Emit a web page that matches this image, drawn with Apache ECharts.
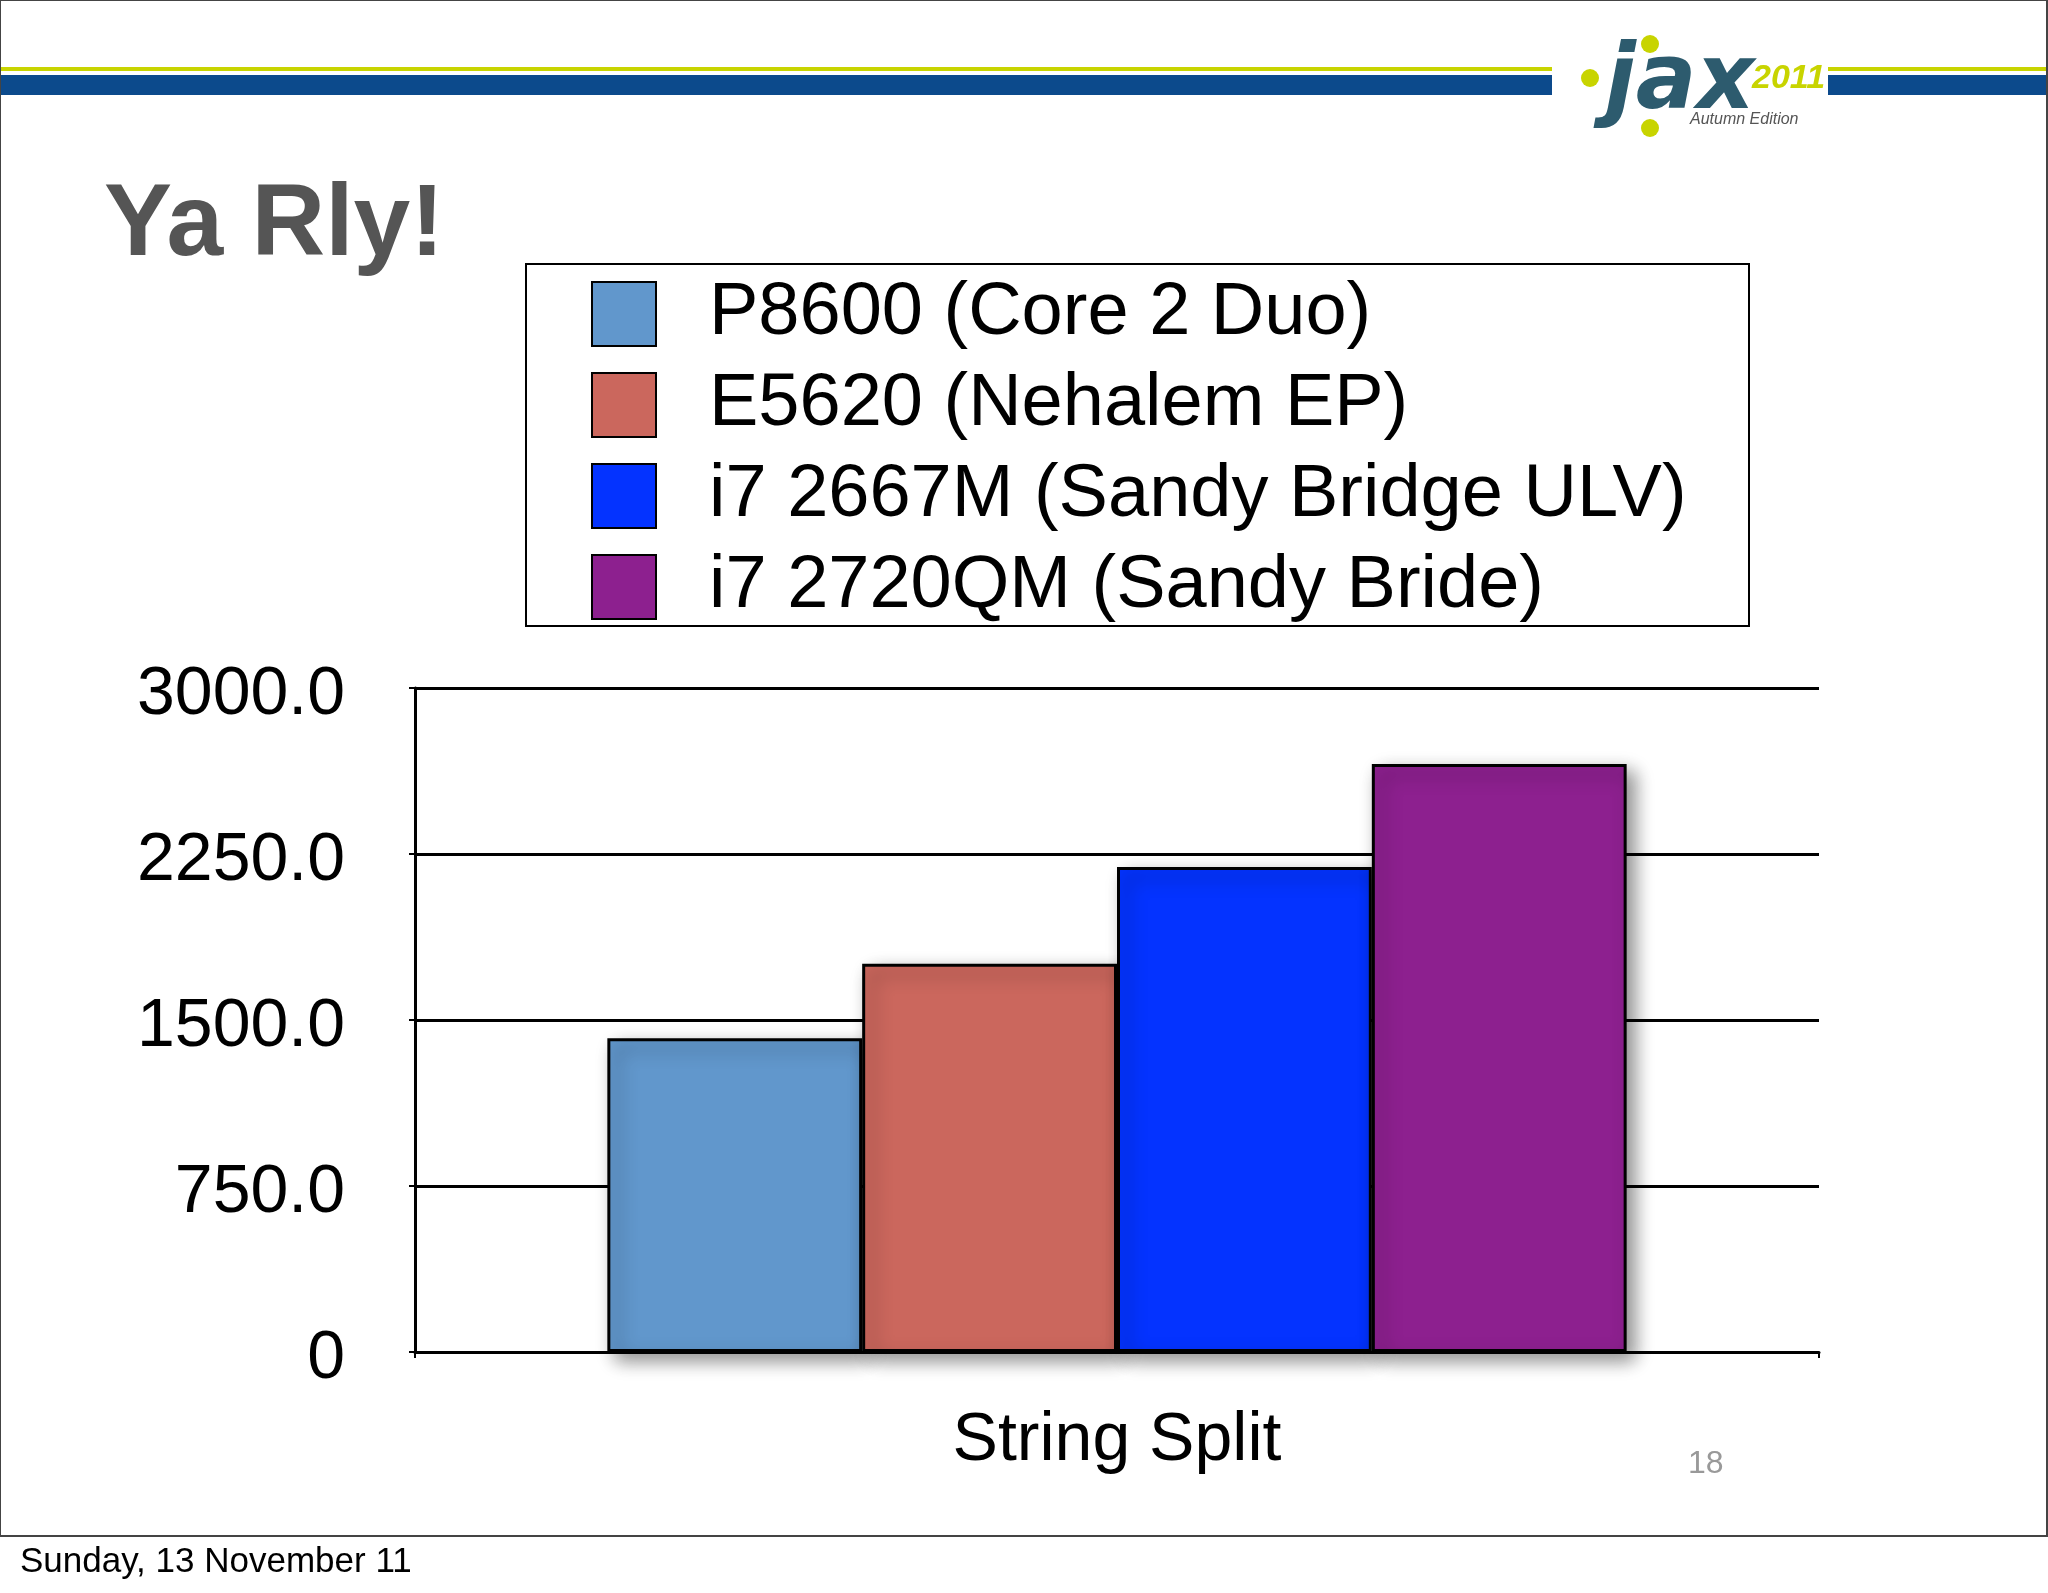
<!DOCTYPE html>
<html>
<head>
<meta charset="utf-8">
<script src="https://cdn.jsdelivr.net/npm/echarts@6/dist/echarts.min.js"></script>
<style>html,body{margin:0;padding:0;background:#fff}#c{width:2048px;height:1593px}</style>
</head>
<body>
<div id="c"></div>
<script>
var categories = ['String Split'];
var seriesNames = ['P8600 (Core 2 Duo)', 'E5620 (Nehalem EP)', 'i7 2667M (Sandy Bridge ULV)', 'i7 2720QM (Sandy Bride)'];
var seriesValues = [[1417], [1754], [2191], [2657]];
var seriesColors = ['#6197cc', '#cb675d', '#0433ff', '#8d208f'];
var yTicks = [0, 750, 1500, 2250, 3000];

function getSeries() {
	var arr = [];
	for (var i = 0; i < seriesNames.length; i++) {
		arr.push({
			name: seriesNames[i],
			type: 'bar',
			data: seriesValues[i],
			barGap: '0%',
			barCategoryGap: '27.4%',
			itemStyle: {
				color: seriesColors[i], borderColor: '#000', borderWidth: 3,
				shadowColor: 'rgba(0,0,0,0.45)', shadowBlur: 18, shadowOffsetX: 8, shadowOffsetY: 8
			}
		});
	}
	return arr;
}

var myChart = echarts.init(document.getElementById('c'));
myChart.setOption({
	animation: false,
	textStyle: { fontFamily: 'Liberation Sans, Arial, sans-serif' },
	grid: { left: 415, right: 229, top: 688, bottom: 241 },
	legend: {
		orient: 'vertical', left: 586, top: 272,
		itemWidth: 64, itemHeight: 64, itemGap: 17,
		icon: 'rect',
		itemStyle: { borderColor: '#000', borderWidth: 2 },
		textStyle: { fontSize: 74, color: '#000', padding: [0, 0, 0, 48] },
		data: seriesNames
	},
	xAxis: {
		type: 'category', data: categories,
		axisLine: { lineStyle: { color: '#000', width: 3 } },
		axisTick: { show: true, alignWithLabel: false, length: 6, lineStyle: { color: '#000', width: 2 } },
		axisLabel: { fontSize: 68, color: '#000', margin: 55 }
	},
	yAxis: {
		type: 'value', min: 0, max: 3000, interval: 750,
		axisLine: { show: true, lineStyle: { color: '#000', width: 3 } },
		axisTick: { show: true, length: 6, lineStyle: { color: '#000', width: 2 } },
		splitLine: { lineStyle: { color: '#000', width: 3 } },
		axisLabel: {
			fontSize: 68, color: '#000', margin: 70, lineHeight: 90, verticalAlign: 'top', padding: [-38, 0, 0, 0],
			formatter: function (v) { return v === 0 ? '0' : v.toFixed(1); }
		}
	},
	graphic: [
		{ type: 'rect', shape: { x: 0, y: 67, width: 1552, height: 4 }, style: { fill: '#c8d400' } },
		{ type: 'rect', shape: { x: 0, y: 75, width: 1552, height: 20 }, style: { fill: '#0c4a8c' } },
		{ type: 'rect', shape: { x: 1828, y: 67, width: 220, height: 4 }, style: { fill: '#c8d400' } },
		{ type: 'rect', shape: { x: 1828, y: 75, width: 220, height: 20 }, style: { fill: '#0c4a8c' } },
		{ type: 'text', left: 1605, top: 40, style: { text: 'jax', font: 'bold italic 90px DejaVu Sans', fill: '#2d5b6e' } },
		{ type: 'text', left: 1752, top: 62, style: { text: '2011', font: 'bold italic 34px Liberation Sans', fill: '#c8d400' } },
		{ type: 'text', left: 1690, top: 112, style: { text: 'Autumn Edition', font: 'italic 16px Liberation Sans', fill: '#555' } },
		{ type: 'circle', shape: { cx: 1650, cy: 44, r: 9 }, style: { fill: '#c8d400' } },
		{ type: 'circle', shape: { cx: 1590, cy: 78, r: 9 }, style: { fill: '#c8d400' } },
		{ type: 'circle', shape: { cx: 1650, cy: 128, r: 9 }, style: { fill: '#c8d400' } },
		{ type: 'text', left: 104, top: 176, style: { text: 'Ya Rly!', font: 'bold 102px Liberation Sans', fill: '#555' } },
		{ type: 'rect', shape: { x: 526, y: 264, width: 1223, height: 362 }, style: { fill: 'none', stroke: '#000', lineWidth: 2 } },
		{ type: 'text', left: 1688, top: 1448, style: { text: '18', font: '32px Liberation Sans', fill: '#999' } },
		{ type: 'rect', shape: { x: 0, y: 1535, width: 2048, height: 2 }, style: { fill: '#444' } },
		{ type: 'rect', shape: { x: 0, y: 0, width: 2047, height: 1536 }, style: { fill: 'none', stroke: '#444', lineWidth: 2 } },
		{ type: 'text', left: 20, top: 1545, style: { text: 'Sunday, 13 November 11', font: '35px Liberation Sans', fill: '#000' } }
	],
	series: getSeries()
});
</script>
</body>
</html>
